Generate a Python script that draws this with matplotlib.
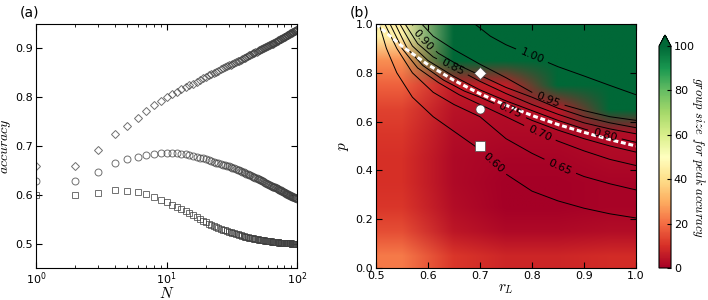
import numpy as np
import matplotlib.pyplot as plt
from matplotlib.contour import ContourSet

# ---------------- panel (a): accuracy vs group size ----------------
N = np.arange(1, 101)

acc_diamond = [
    0.660, 0.660, 0.692, 0.724, 0.741, 0.758, 0.772, 0.783, 0.792, 0.800,
    0.806, 0.811, 0.816, 0.820, 0.824, 0.828, 0.832, 0.836, 0.839, 0.842,
    0.845, 0.847, 0.850, 0.852, 0.854, 0.857, 0.859, 0.861, 0.863, 0.865,
    0.867, 0.869, 0.870, 0.872, 0.874, 0.875, 0.877, 0.878, 0.880, 0.881,
    0.883, 0.884, 0.886, 0.887, 0.888, 0.890, 0.891, 0.892, 0.893, 0.895,
    0.896, 0.897, 0.898, 0.899, 0.900, 0.901, 0.902, 0.903, 0.904, 0.905,
    0.906, 0.907, 0.908, 0.909, 0.910, 0.911, 0.912, 0.913, 0.914, 0.915,
    0.916, 0.917, 0.918, 0.919, 0.920, 0.920, 0.921, 0.922, 0.923, 0.924,
    0.924, 0.925, 0.926, 0.927, 0.928, 0.928, 0.929, 0.930, 0.931, 0.931,
    0.932, 0.933, 0.934, 0.934, 0.935, 0.936, 0.936, 0.937, 0.938, 0.938]

acc_circle = [
    0.629, 0.629, 0.647, 0.665, 0.673, 0.678, 0.682, 0.684, 0.685, 0.686,
    0.686, 0.685, 0.684, 0.683, 0.681, 0.680, 0.678, 0.676, 0.675, 0.673,
    0.671, 0.669, 0.668, 0.666, 0.665, 0.663, 0.662, 0.661, 0.659, 0.658,
    0.656, 0.655, 0.654, 0.652, 0.651, 0.650, 0.648, 0.647, 0.646, 0.645,
    0.643, 0.642, 0.641, 0.640, 0.639, 0.637, 0.636, 0.635, 0.634, 0.633,
    0.632, 0.631, 0.630, 0.629, 0.628, 0.627, 0.625, 0.624, 0.623, 0.622,
    0.621, 0.620, 0.619, 0.618, 0.617, 0.616, 0.616, 0.615, 0.614, 0.613,
    0.612, 0.611, 0.610, 0.609, 0.609, 0.608, 0.607, 0.606, 0.605, 0.605,
    0.604, 0.603, 0.602, 0.602, 0.601, 0.600, 0.600, 0.599, 0.598, 0.598,
    0.597, 0.596, 0.596, 0.595, 0.595, 0.594, 0.594, 0.593, 0.593, 0.592]

acc_square = [
    0.600, 0.600, 0.604, 0.609, 0.607, 0.605, 0.601, 0.596, 0.590, 0.585,
    0.580, 0.575, 0.571, 0.567, 0.562, 0.558, 0.554, 0.551, 0.547, 0.544,
    0.541, 0.539, 0.536, 0.534, 0.532, 0.530, 0.528, 0.527, 0.525, 0.524,
    0.523, 0.522, 0.521, 0.520, 0.519, 0.518, 0.517, 0.516, 0.515, 0.514,
    0.514, 0.513, 0.512, 0.512, 0.511, 0.511, 0.510, 0.510, 0.509, 0.509,
    0.508, 0.508, 0.508, 0.507, 0.507, 0.507, 0.506, 0.506, 0.506, 0.505,
    0.505, 0.505, 0.505, 0.504, 0.504, 0.504, 0.504, 0.503, 0.503, 0.503,
    0.503, 0.503, 0.502, 0.502, 0.502, 0.502, 0.502, 0.502, 0.501, 0.501,
    0.501, 0.501, 0.501, 0.501, 0.501, 0.501, 0.501, 0.501, 0.501, 0.501,
    0.500, 0.500, 0.500, 0.500, 0.500, 0.500, 0.500, 0.500, 0.500, 0.500]

# ---------------- panel (b): parameter plane ----------------
# group size giving the peak accuracy on a coarse grid
# rows: p = 0.05 .. 0.95, cols: r_L = 0.55 .. 0.95
peak_size = [
    [22, 11, 8, 8, 9],
    [15, 5, 2, 2, 3],
    [11, 3, 0, 0, 1],
    [10, 2, 0, 0, 1],
    [10, 2, 1, 1, 2],
    [11, 3, 2, 2, 3],
    [13, 4, 3, 5, 110],
    [18, 6, 6, 110, 110],
    [25, 110, 110, 110, 110],
    [45, 110, 110, 110, 110],
]

# iso-lines of peak accuracy: (r_L, p) points
levels = [0.60, 0.65, 0.70, 0.75, 0.80, 0.85, 0.90, 0.95, 1.00]
iso_r = {
    0.60: [0.506, 0.52, 0.54, 0.57, 0.61, 0.65, 0.69, 0.725, 0.75, 0.80, 0.85, 0.90, 0.95, 1.0],
    0.65: [0.517, 0.54, 0.57, 0.61, 0.65, 0.70, 0.75, 0.80, 0.854, 0.90, 0.95, 1.0],
    0.70: [0.527, 0.55, 0.58, 0.62, 0.66, 0.70, 0.75, 0.815, 0.85, 0.90, 0.95, 1.0],
    0.75: [0.537, 0.56, 0.59, 0.63, 0.67, 0.70, 0.758, 0.80, 0.85, 0.90, 0.95, 1.0],
    0.80: [0.546, 0.57, 0.60, 0.65, 0.70, 0.75, 0.80, 0.85, 0.90, 0.94, 1.0],
    0.85: [0.556, 0.58, 0.61, 0.647, 0.70, 0.75, 0.80, 0.85, 0.90, 0.95, 1.0],
    0.90: [0.569, 0.59, 0.62, 0.66, 0.70, 0.75, 0.80, 0.85, 0.90, 0.95, 1.0],
    0.95: [0.588, 0.61, 0.65, 0.70, 0.75, 0.80, 0.831, 0.85, 0.90, 0.95, 1.0],
    1.00: [0.69, 0.72, 0.75, 0.80, 0.85, 0.90, 0.95, 1.0],
}
iso_p = {
    0.60: [1.0, 0.90, 0.80, 0.70, 0.62, 0.56, 0.50, 0.43, 0.385, 0.315, 0.275, 0.245, 0.222, 0.205],
    0.65: [1.0, 0.90, 0.80, 0.72, 0.67, 0.62, 0.53, 0.47, 0.415, 0.375, 0.345, 0.32],
    0.70: [1.0, 0.90, 0.82, 0.76, 0.71, 0.67, 0.62, 0.553, 0.52, 0.48, 0.445, 0.42],
    0.75: [1.0, 0.90, 0.83, 0.77, 0.725, 0.70, 0.645, 0.605, 0.565, 0.53, 0.50, 0.475],
    0.80: [1.0, 0.91, 0.85, 0.785, 0.73, 0.685, 0.645, 0.605, 0.57, 0.545, 0.515],
    0.85: [1.0, 0.92, 0.865, 0.825, 0.765, 0.715, 0.67, 0.63, 0.595, 0.57, 0.55],
    0.90: [1.0, 0.935, 0.88, 0.83, 0.79, 0.74, 0.70, 0.655, 0.62, 0.595, 0.575],
    0.95: [1.0, 0.95, 0.895, 0.835, 0.78, 0.72, 0.69, 0.675, 0.645, 0.62, 0.605],
    1.00: [1.0, 0.95, 0.915, 0.87, 0.825, 0.787, 0.748, 0.71],
}
label_at = {0.60: 7, 0.65: 8, 0.70: 7, 0.75: 6, 0.80: 9, 0.85: 3, 0.90: 1, 0.95: 6, 1.00: 3}

# boundary where accuracy keeps growing with N
bound_r = [0.50, 0.55, 0.60, 0.65, 0.70, 0.75, 0.80, 0.85, 0.90, 0.95, 1.00]
bound_p = [1.000, 0.909, 0.833, 0.769, 0.714, 0.667, 0.625, 0.588, 0.556, 0.526, 0.500]

# example parameter sets shown in panel (a)
ex_r = [0.7, 0.7, 0.7]
ex_p = [0.8, 0.65, 0.5]
ex_marker = ['D', 'o', 's']

plt.rcParams['font.size'] = 8
plt.rcParams['xtick.direction'] = 'in'
plt.rcParams['ytick.direction'] = 'in'

fig = plt.figure(figsize=(7.08, 3.0), dpi=100)
ax1 = fig.add_axes([36 / 708, 32 / 300, 261 / 708, 244 / 300])
ax2 = fig.add_axes([376 / 708, 32 / 300, 260 / 708, 244 / 300])
cax = fig.add_axes([659 / 708, 32 / 300, 12 / 708, 233 / 300])

# panel (a)
mk = dict(linestyle='none', markerfacecolor='none', markeredgecolor='0.25',
          markeredgewidth=0.7, alpha=0.75)
ax1.plot(N, acc_diamond, marker='D', markersize=4.5, **mk)
ax1.plot(N, acc_circle, marker='o', markersize=5, **mk)
ax1.plot(N, acc_square, marker='s', markersize=5, **mk)
ax1.set_xscale('log')
ax1.set_xlim(1, 100)
ax1.set_ylim(0.45, 0.95)
ax1.set_yticks([0.5, 0.6, 0.7, 0.8, 0.9])
ax1.tick_params(which='both', top=True, right=True, pad=2)
ax1.tick_params(which='major', length=4)
ax1.tick_params(which='minor', length=2)
ax1.set_xlabel(r'$N$', math_fontfamily='cm', fontsize=11, labelpad=-1)
ax1.set_ylabel(r'$accuracy$', math_fontfamily='cm', fontsize=10, labelpad=2)

# panel (b)
im = ax2.imshow(peak_size, origin='lower', extent=(0.5, 1.0, 0.0, 1.0),
                cmap='RdYlGn', vmin=0, vmax=100, aspect='auto',
                interpolation='bilinear', interpolation_stage='rgba')

segs = [[np.column_stack([iso_r[lv], iso_p[lv]])] for lv in levels]
cs = ContourSet(ax2, levels, segs, colors='k', linewidths=0.7)
manual = [(iso_r[lv][label_at[lv]], iso_p[lv][label_at[lv]]) for lv in levels]
ax2.clabel(cs, fmt='%.2f', manual=manual, inline=True, fontsize=8)

ax2.plot(bound_r, bound_p, color='white', linewidth=2.2, linestyle=(0, (1.6, 0.9)))
for r, p, m in zip(ex_r, ex_p, ex_marker):
    ax2.plot(r, p, marker=m, markersize=6 if m == 'D' else 6.5, color='white',
             markeredgecolor='0.3', markeredgewidth=0.5, linestyle='none')

ax2.set_xlim(0.5, 1.0)
ax2.set_ylim(0.0, 1.0)
ax2.set_xticks([0.5, 0.6, 0.7, 0.8, 0.9, 1.0])
ax2.set_yticks([0.0, 0.2, 0.4, 0.6, 0.8, 1.0])
ax2.tick_params(top=True, right=True, length=4, pad=2)
ax2.set_xlabel(r'$r_L$', math_fontfamily='cm', fontsize=11, labelpad=0)
ax2.set_ylabel(r'$p$', math_fontfamily='cm', fontsize=11, labelpad=3)

cb = fig.colorbar(im, cax=cax, extend='max', ticks=[0, 20, 40, 60, 80, 100])
cb.ax.tick_params(direction='in', length=3, pad=2)
cb.set_label(r'$group\ size\ for\ peak\ accuracy$', math_fontfamily='cm',
             fontsize=9, rotation=270, labelpad=9)

fig.text(20 / 708, 1 - 12 / 300, '(a)', fontsize=10, va='center')
fig.text(350 / 708, 1 - 12 / 300, '(b)', fontsize=10, va='center')

fig.savefig('out.png', dpi=100)
